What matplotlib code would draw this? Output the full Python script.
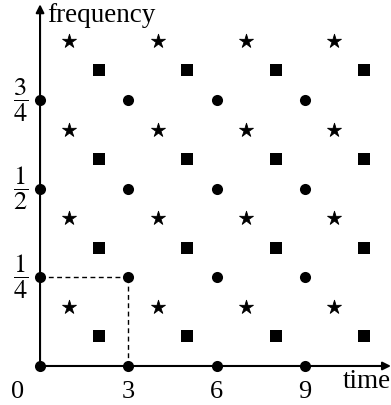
import matplotlib
matplotlib.use("Agg")
import matplotlib.pyplot as plt
from matplotlib.path import Path
import numpy as np

plt.rcParams["font.family"] = "serif"
plt.rcParams["font.serif"] = ["Liberation Serif", "DejaVu Serif"]
plt.rcParams["mathtext.fontset"] = "stix"

# lattice of sample points: circles, squares, stars
circle_x = [0, 3, 6, 9]
circle_y = [0, 1 / 4, 1 / 2, 3 / 4]
square_x = [2, 5, 8, 11]
square_y = [1 / 12, 1 / 3, 7 / 12, 5 / 6]
star_x = [1, 4, 7, 10]
star_y = [1 / 6, 5 / 12, 2 / 3, 11 / 12]

x_ticks = [3, 6, 9]
x_labels = ["3", "6", "9"]
y_ticks = [1 / 4, 1 / 2, 3 / 4]
y_labels = [r"$\dfrac{1}{4}$", r"$\dfrac{1}{2}$", r"$\dfrac{3}{4}$"]


def thin_star(inner=0.36):
    # five pointed star with slim arms
    ang = np.pi / 2 + np.arange(10) * np.pi / 5
    r = np.where(np.arange(10) % 2 == 0, 1.0, inner)
    verts = np.column_stack([r * np.cos(ang), r * np.sin(ang)])
    verts = np.vstack([verts, verts[:1]])
    codes = [Path.MOVETO] + [Path.LINETO] * 9 + [Path.CLOSEPOLY]
    return Path(verts, codes)


fig = plt.figure(figsize=(3.91, 4.05), dpi=100)
ax = fig.add_axes([0, 0, 1, 1])
ax.set_xlim(-1.36, 11.92)
ax.set_ylim(-0.110, 1.032)
ax.axis("off")

# axes with arrows
arrow = dict(arrowstyle="-|>", color="black", lw=1.5, shrinkA=0, shrinkB=0, mutation_scale=12)
ax.annotate("", xy=(11.92, 0), xytext=(0, 0), arrowprops=arrow)
ax.annotate("", xy=(0, 1.02), xytext=(0, 0), arrowprops=arrow)

# dashed guide to (3, 1/4)
ax.plot([0, 3], [1 / 4, 1 / 4], color="black", lw=1, ls=(0, (3.5, 2.5)))
ax.plot([3, 3], [0, 1 / 4], color="black", lw=1, ls=(0, (3.5, 2.5)))

for xs, ys, m, ms, mew in [(circle_x, circle_y, "o", 8, 0), (square_x, square_y, "s", 8.3, 0),
                           (star_x, star_y, thin_star(), 10.5, 0.6)]:
    gx, gy = np.meshgrid(xs, ys)
    ax.plot(gx.ravel(), gy.ravel(), ls="none", marker=m, ms=ms, mew=mew, color="black", zorder=5, clip_on=False)

for x, lab in zip(x_ticks, x_labels):
    ax.text(x, -0.090, lab, ha="center", va="baseline", fontsize=19)
ax.text(-0.75, -0.090, "0", ha="center", va="baseline", fontsize=19)
for y, lab in zip(y_ticks, y_labels):
    ax.text(-0.66, y, lab, ha="center", va="center", fontsize=19)

ax.text(0.24, 0.97, "frequency", ha="left", va="baseline", fontsize=19.5)
ax.text(10.29, -0.062, "time", ha="left", va="baseline", fontsize=19.5)

fig.savefig("out.png", dpi=100)
